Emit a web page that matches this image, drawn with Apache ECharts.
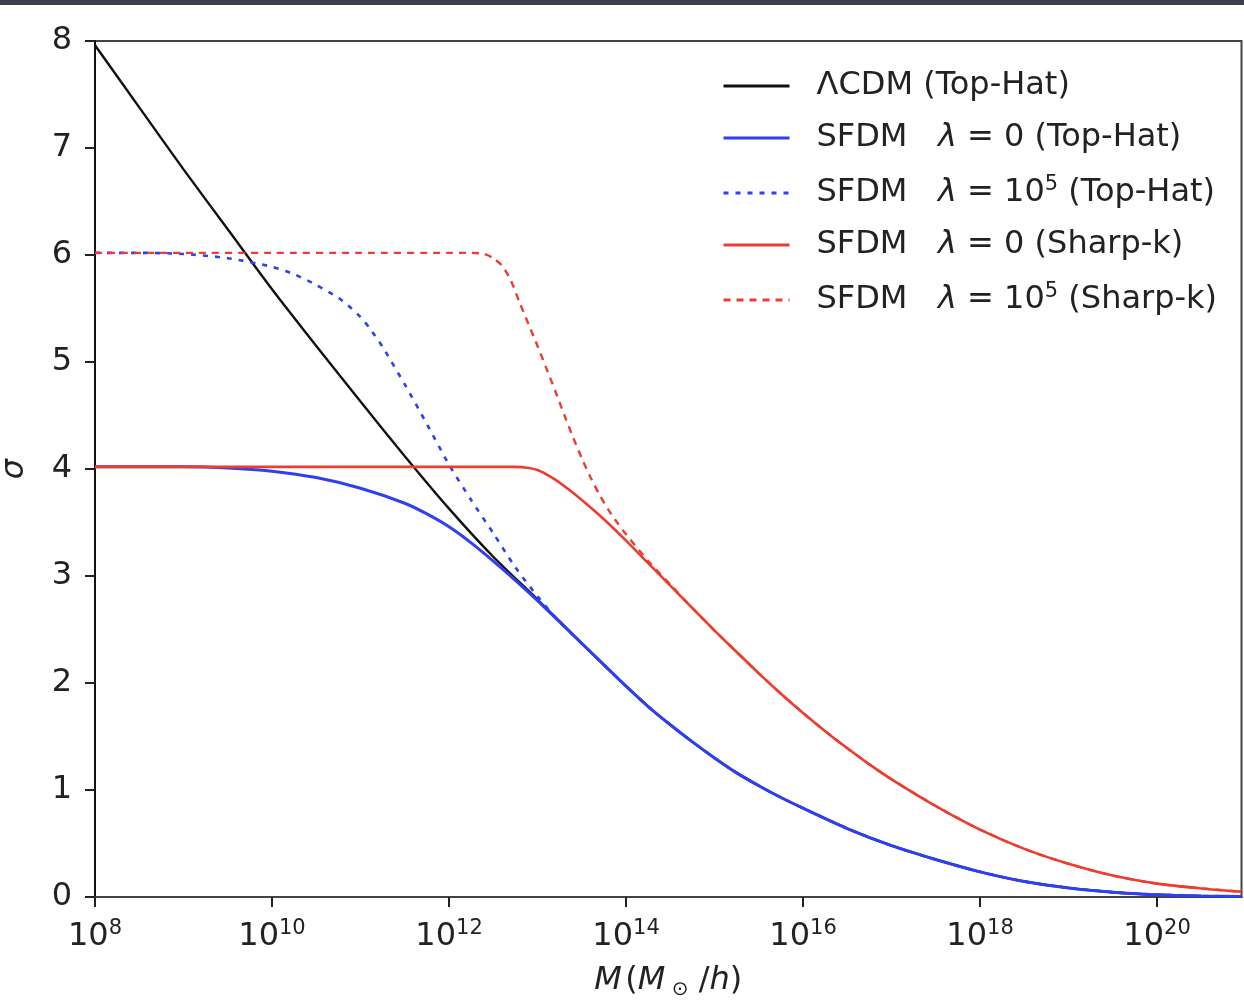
<!DOCTYPE html>
<html>
<head>
<meta charset="utf-8">
<script src="https://cdn.jsdelivr.net/npm/echarts@6/dist/echarts.min.js"></script>
<style>
  html, body { margin: 0; padding: 0; background: #ffffff; }
  #chart { width: 1244px; height: 1000px; }
</style>
</head>
<body>
<div id="chart"></div>
<script>
// Mass variance sigma(M) for LCDM and scalar-field dark matter (SFDM).
// x values are log10(M / (M_sun/h)).

const xTicks = [8, 10, 12, 14, 16, 18, 20];
const yTicks = [0, 1, 2, 3, 4, 5, 6, 7, 8];
const logMMax = 20.954; // 9e20 M_sun/h

// Shared high-mass tails
const tailTopHatLogM = [14, 14.25, 14.5, 14.75, 15, 15.25, 15.5, 15.75, 16, 16.5, 17, 17.5, 18, 18.5, 19, 19.5, 20, 20.5, 20.954];
const tailTopHatSigma = [1.97, 1.78, 1.61, 1.45, 1.30, 1.16, 1.04, 0.93, 0.83, 0.64, 0.48, 0.35, 0.235, 0.145, 0.085, 0.045, 0.022, 0.010, 0.005];

const tailSharpLogM = [14.75, 15, 15.25, 15.5, 15.75, 16, 16.25, 16.5, 16.75, 17, 17.5, 18, 18.5, 19, 19.5, 20, 20.5, 20.954];
const tailSharpSigma = [2.70, 2.49, 2.29, 2.09, 1.90, 1.72, 1.55, 1.39, 1.24, 1.10, 0.85, 0.63, 0.45, 0.31, 0.20, 0.125, 0.08, 0.05];

// LCDM (Top-Hat)
const lcdmLogM = [8, 8.5, 9, 9.5, 10, 10.5, 11, 11.5, 12, 12.5, 13, 13.5, 13.75].concat(tailTopHatLogM);
const lcdmSigma = [7.96, 7.38, 6.80, 6.24, 5.68, 5.15, 4.63, 4.12, 3.63, 3.18, 2.78, 2.37, 2.17].concat(tailTopHatSigma);

// SFDM lambda = 0 (Top-Hat)
const sfdm0ThLogM = [8, 9, 9.5, 10, 10.5, 11, 11.5, 11.75, 12, 12.25, 12.5, 12.75, 13, 13.25, 13.5, 13.75].concat(tailTopHatLogM);
const sfdm0ThSigma = [4.02, 4.02, 4.01, 3.98, 3.92, 3.82, 3.68, 3.58, 3.46, 3.31, 3.14, 2.96, 2.77, 2.57, 2.37, 2.17].concat(tailTopHatSigma);

// SFDM lambda = 1e5 (Top-Hat)
const sfdm5ThLogM = [8, 8.5, 9, 9.5, 10, 10.25, 10.5, 10.75, 10.9, 11, 11.1, 11.25, 11.5, 11.75, 12, 12.25, 12.5, 12.75, 13, 13.25, 13.5, 13.75].concat(tailTopHatLogM);
const sfdm5ThSigma = [6.02, 6.02, 6.01, 5.97, 5.89, 5.82, 5.72, 5.60, 5.50, 5.42, 5.32, 5.14, 4.79, 4.42, 4.04, 3.71, 3.40, 3.08, 2.81, 2.57, 2.37, 2.17].concat(tailTopHatSigma);

// SFDM lambda = 0 (Sharp-k)
const sfdm0SkLogM = [8, 9, 10, 11, 12, 12.5, 12.75, 12.9, 13, 13.1, 13.2, 13.35, 13.5, 13.75, 14, 14.25, 14.5].concat(tailSharpLogM);
const sfdm0SkSigma = [4.02, 4.02, 4.02, 4.02, 4.02, 4.02, 4.02, 4.01, 3.99, 3.95, 3.90, 3.81, 3.71, 3.53, 3.33, 3.12, 2.91].concat(tailSharpSigma);

// SFDM lambda = 1e5 (Sharp-k)
const sfdm5SkLogM = [8, 9, 10, 11, 12, 12.25, 12.4, 12.5, 12.6, 12.7, 12.8, 12.9, 13, 13.1, 13.2, 13.3, 13.4, 13.5, 13.6, 13.7, 13.8, 13.9, 14, 14.25, 14.5].concat(tailSharpLogM);
const sfdm5SkSigma = [6.02, 6.02, 6.02, 6.02, 6.02, 6.02, 6.01, 5.97, 5.90, 5.76, 5.55, 5.35, 5.15, 4.94, 4.73, 4.51, 4.30, 4.10, 3.92, 3.76, 3.62, 3.50, 3.39, 3.14, 2.92].concat(tailSharpSigma);

const BLUE = '#2f3ff2';
const RED = '#ec3d30';
const FONT = 'DejaVu Sans';
const TEXT = '#222222';

function pairs(xs, ys) { return xs.map((x, i) => [x, ys[i]]); }

const names = {
  lcdm: 'ΛCDM (Top-Hat)',
  s0th: 'SFDM λ=0 (Top-Hat)',
  s5th: 'SFDM λ=1e5 (Top-Hat)',
  s0sk: 'SFDM λ=0 (Sharp-k)',
  s5sk: 'SFDM λ=1e5 (Sharp-k)'
};

const legendText = {};
legendText[names.lcdm] = '{n|ΛCDM (Top-Hat)}';
legendText[names.s0th] = '{n|SFDM   }{i|λ}{n| = 0 (Top-Hat)}';
legendText[names.s5th] = '{n|SFDM   }{i|λ}{n| = 10}{s|5}{n| (Top-Hat)}';
legendText[names.s0sk] = '{n|SFDM   }{i|λ}{n| = 0 (Sharp-k)}';
legendText[names.s5sk] = '{n|SFDM   }{i|λ}{n| = 10}{s|5}{n| (Sharp-k)}';

function lineSeries(name, xs, ys, color, width, dash) {
  return {
    name: name,
    type: 'line',
    data: pairs(xs, ys),
    symbol: 'none',
    smooth: 0.25,
    lineStyle: { color: color, width: width, type: dash || 'solid' },
    itemStyle: { color: color },
    emphasis: { disabled: true },
    animation: false
  };
}

const chart = echarts.init(document.getElementById('chart'), null, { renderer: 'canvas' });

chart.setOption({
  backgroundColor: '#ffffff',
  animation: false,
  graphic: [{
    type: 'rect', left: 0, top: 0, z: 100,
    shape: { width: 1244, height: 5 },
    style: { fill: '#3d404d' }
  }],
  grid: {
    left: 95, right: 2.5, top: 41, bottom: 103,
    outerBoundsMode: 'none',
    containLabel: false,
    show: true, borderColor: '#444', borderWidth: 2, backgroundColor: 'transparent'
  },
  legend: {
    orient: 'vertical',
    left: 722, top: 70,
    padding: 0,
    itemWidth: 66, itemHeight: 14,
    itemGap: 20,
    itemStyle: { opacity: 0 },
    lineStyle: { width: 3 },
    data: [names.lcdm, names.s0th, names.s5th, names.s0sk, names.s5sk],
    formatter: (name) => legendText[name],
    textStyle: {
      padding: [0, 0, 0, 22],
      rich: {
        n: { fontFamily: FONT, fontSize: 32, color: TEXT, lineHeight: 38 },
        i: { fontFamily: FONT, fontSize: 32, fontStyle: 'italic', color: TEXT, lineHeight: 38 },
        s: { fontFamily: FONT, fontSize: 21, color: TEXT, lineHeight: 38, verticalAlign: 'top' }
      }
    }
  },
  xAxis: {
    type: 'value',
    min: 8, max: logMMax,
    interval: 2,
    name: '{i|M} {n|(}{i|M}{sub| ⊙}{n| /}{i|h}{n|)}',
    nameLocation: 'middle',
    nameGap: 65,
    nameTextStyle: {
      rich: {
        n: { fontFamily: FONT, fontSize: 32, color: TEXT, lineHeight: 38 },
        i: { fontFamily: FONT, fontSize: 32, fontStyle: 'italic', color: TEXT, lineHeight: 38 },
        sub: { fontFamily: FONT, fontSize: 20, color: TEXT, lineHeight: 38, verticalAlign: 'bottom' }
      }
    },
    axisLine: { show: true, onZero: false, lineStyle: { color: '#444', width: 2 } },
    axisTick: { show: true, inside: false, length: 10, customValues: xTicks, lineStyle: { color: TEXT, width: 2 } },
    axisLabel: {
      margin: 21,
      customValues: xTicks,
      formatter: (v) => '{b|10}{s|' + v + '}',
      rich: {
        b: { fontFamily: FONT, fontSize: 32, color: TEXT, lineHeight: 38 },
        s: { fontFamily: FONT, fontSize: 21, color: TEXT, lineHeight: 38, verticalAlign: 'top' }
      }
    },
    splitLine: { show: false }
  },
  yAxis: {
    type: 'value',
    min: 0, max: 8, interval: 1,
    name: 'σ',
    nameLocation: 'middle',
    nameRotate: 90,
    nameGap: 64,
    nameTextStyle: { fontFamily: FONT, fontSize: 32, fontStyle: 'italic', color: TEXT },
    axisLine: { show: true, lineStyle: { color: '#111', width: 2 } },
    axisTick: { show: true, inside: false, length: 10, lineStyle: { color: TEXT, width: 2 } },
    axisLabel: {
      margin: 23,
      fontFamily: FONT, fontSize: 32, color: TEXT,
      customValues: yTicks
    },
    splitLine: { show: false }
  },
  series: [
    lineSeries(names.lcdm, lcdmLogM, lcdmSigma, '#111111', 2.4),
    lineSeries(names.s0th, sfdm0ThLogM, sfdm0ThSigma, BLUE, 3),
    lineSeries(names.s5th, sfdm5ThLogM, sfdm5ThSigma, BLUE, 2.6, [5, 7]),
    lineSeries(names.s0sk, sfdm0SkLogM, sfdm0SkSigma, RED, 2.6),
    lineSeries(names.s5sk, sfdm5SkLogM, sfdm5SkSigma, RED, 2.4, [7, 6])
  ]
});
</script>
</body>
</html>
